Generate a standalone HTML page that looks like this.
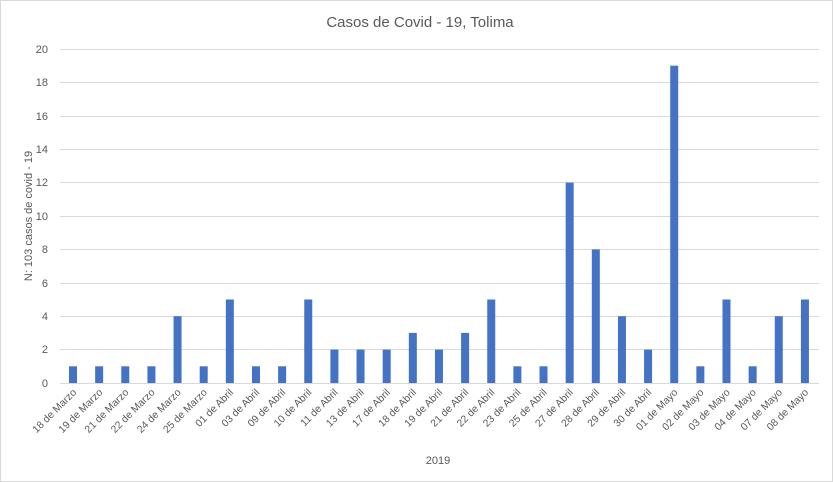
<!DOCTYPE html><html><head><style>body{margin:0;background:#fff}svg{display:block;font-family:"Liberation Sans",Arial,sans-serif}</style></head><body>
<svg width="833" height="482" viewBox="0 0 833 482">
<rect x="0.5" y="0.5" width="832" height="481" fill="#fff" stroke="#d9d9d9"/>
<text x="420" y="27" font-size="15" fill="#595959" text-anchor="middle">Casos de Covid - 19, Tolima</text>
<g stroke="#d9d9d9" stroke-width="1">
<line x1="60" x2="819" y1="49.5" y2="49.5"/><line x1="60" x2="819" y1="82.5" y2="82.5"/><line x1="60" x2="819" y1="116.5" y2="116.5"/><line x1="60" x2="819" y1="149.5" y2="149.5"/><line x1="60" x2="819" y1="182.5" y2="182.5"/><line x1="60" x2="819" y1="216.5" y2="216.5"/><line x1="60" x2="819" y1="249.5" y2="249.5"/><line x1="60" x2="819" y1="283.5" y2="283.5"/><line x1="60" x2="819" y1="316.5" y2="316.5"/><line x1="60" x2="819" y1="349.5" y2="349.5"/><line x1="60" x2="819" y1="383.5" y2="383.5"/>
</g>
<g font-size="11" fill="#595959" text-anchor="end">
<text x="48" y="53">20</text><text x="48" y="86">18</text><text x="48" y="120">16</text><text x="48" y="153">14</text><text x="48" y="186">12</text><text x="48" y="220">10</text><text x="48" y="253">8</text><text x="48" y="287">6</text><text x="48" y="320">4</text><text x="48" y="353">2</text><text x="48" y="387">0</text>
</g>
<text transform="translate(32,216) rotate(-90)" font-size="11" fill="#595959" text-anchor="middle">N: 103 casos de covid - 19</text>
<text x="438" y="464" font-size="11" fill="#595959" text-anchor="middle">2019</text>
<g id="bars" fill="#4472c4"></g>
<g id="labels" font-size="10.3" fill="#595959" text-anchor="end"></g>
<script>
var d=[["18 de Marzo",1],["19 de Marzo",1],["21 de Marzo",1],["22 de Marzo",1],["24 de Marzo",4],["25 de Marzo",1],["01 de Abril",5],["03 de Abril",1],["09 de Abril",1],["10 de Abril",5],["11 de Abril",2],["13 de Abril",2],["17 de Abril",2],["18 de Abril",3],["19 de Abril",2],["21 de Abril",3],["22 de Abril",5],["23 de Abril",1],["25 de Abril",1],["27 de Abril",12],["28 de Abril",8],["29 de Abril",4],["30 de Abril",2],["01 de Mayo",19],["02 de Mayo",1],["03 de Mayo",5],["04 de Mayo",1],["07 de Mayo",4],["08 de Mayo",5]];
var ns="http://www.w3.org/2000/svg",b=document.getElementById("bars"),l=document.getElementById("labels");
d.forEach(function(e,i){var c=73+i*26.14,h=e[1]*16.7;var r=document.createElementNS(ns,"rect");r.setAttribute("x",c-4);r.setAttribute("width",8);r.setAttribute("y",383-h);r.setAttribute("height",h);b.appendChild(r);
var t=document.createElementNS(ns,"text");t.setAttribute("transform","translate("+(c+4)+",393) rotate(-45)");t.textContent=e[0];l.appendChild(t);});
</script>
</svg></body></html>
